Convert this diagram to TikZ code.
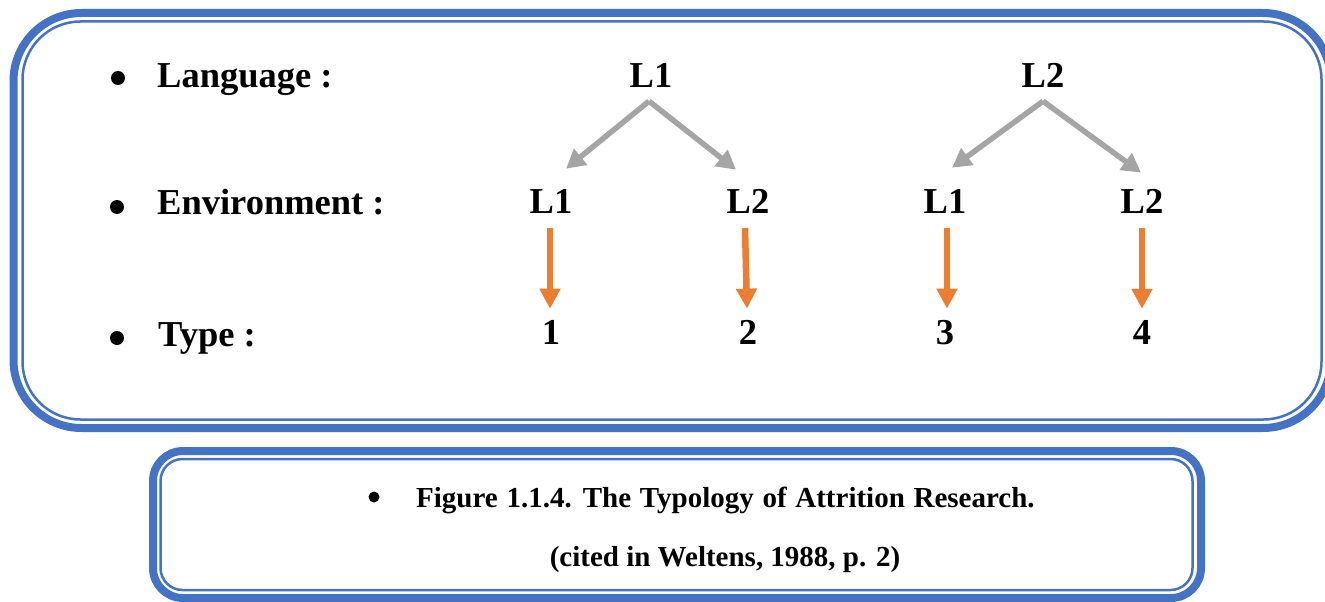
\documentclass[tikz,border=0pt]{standalone}
\usepackage{fontspec}
\setmainfont{Liberation Serif}
\usetikzlibrary{arrows.meta}
\definecolor{frameblue}{HTML}{4472C4}
\definecolor{accentorange}{HTML}{ED7D31}
\definecolor{softgray}{HTML}{A5A5A5}
\begin{document}
\begin{tikzpicture}[x=1pt,y=-1pt,
  big/.style={inner sep=0pt,font=\fontsize{36.5}{40}\selectfont\bfseries},
  captext/.style={inner sep=0pt,font=\fontsize{29}{32}\selectfont\bfseries},
  dot/.style={circle,fill=black,inner sep=0pt,minimum size=#1},
  framethick/.style={draw=frameblue,line width=8pt},
  framethin/.style={draw=frameblue,line width=2.5pt},
  grayarrow/.style={draw=softgray,line width=5.5pt,-{Triangle[length=19pt,width=20pt]}},
  orangearrow/.style={draw=accentorange,line width=6.5pt,-{Triangle[length=20pt,width=20pt]}}]
\useasboundingbox (0,0) rectangle (1325,602);

% main panel: double rounded frame
\draw[framethick,rounded corners=68pt] (13.5,13) rectangle (1331,428);
\draw[framethin,rounded corners=58pt] (22.5,21.5) rectangle (1321.5,419.5);

% caption panel: double rounded frame
\draw[framethick,rounded corners=30pt] (153,451) rectangle (1201,598);
\draw[framethin,rounded corners=22pt] (160.5,459) rectangle (1192.5,590);

% row labels
\node[dot=14pt] (b1) at (118,78) {};
\node[dot=14pt] (b2) at (117,207) {};
\node[dot=14pt] (b3) at (117,338) {};
\node[big,anchor=base west] (r1) at (157,88) {Language :};
\node[big,anchor=base west] (r2) at (157,214) {Environment :};
\node[big,anchor=base west] (r3) at (158,346) {Type :};

% language level
\node[big,anchor=base] (g1) at (651,88) {L1};
\node[big,anchor=base] (g2) at (1043,88) {L2};

% environment level
\node[big,anchor=base] (e1) at (551,213) {L1};
\node[big,anchor=base] (e2) at (748,213) {L2};
\node[big,anchor=base] (e3) at (945,213) {L1};
\node[big,anchor=base] (e4) at (1142,213) {L2};

% types
\node[big,anchor=base] (t1) at (551,344) {1};
\node[big,anchor=base] (t2) at (748,344) {2};
\node[big,anchor=base] (t3) at (945,344) {3};
\node[big,anchor=base] (t4) at (1142,344) {4};

% branching arrows
\draw[grayarrow] ([xshift=-2pt,yshift=-13pt]g1.south) -- ([xshift=15pt,yshift=20pt]e1.north);
\draw[grayarrow] ([xshift=-2pt,yshift=-13pt]g1.south) -- ([xshift=-12pt,yshift=19pt]e2.north);
\draw[grayarrow] ([yshift=-13pt]g2.south) -- ([xshift=7pt,yshift=21pt]e3.north);
\draw[grayarrow] ([yshift=-13pt]g2.south) -- ([xshift=-1pt,yshift=16pt]e4.north);

% environment to type
\draw[orangearrow] ([xshift=-1pt,yshift=-15pt]e1.south) -- ([xshift=-1pt,yshift=11pt]t1.north);
\draw[orangearrow] ([xshift=-3pt,yshift=-15pt]e2.south) -- ([xshift=-1pt,yshift=11pt]t2.north);
\draw[orangearrow] ([xshift=2pt,yshift=-15pt]e3.south) -- ([xshift=2pt,yshift=11pt]t3.north);
\draw[orangearrow] ([yshift=-15pt]e4.south) -- ([yshift=11pt]t4.north);

% caption
\node[dot=11pt] (cb) at (374,497) {};
\node[captext,anchor=base west] (c1) at (416,507) {\spaceskip=0.3em plus 0.1em Figure 1.1.4. The Typology of Attrition Research.};
\node[captext,anchor=base] (c2) at (725,566) {(cited in Weltens, 1988, p. 2)};
\end{tikzpicture}
\end{document}
